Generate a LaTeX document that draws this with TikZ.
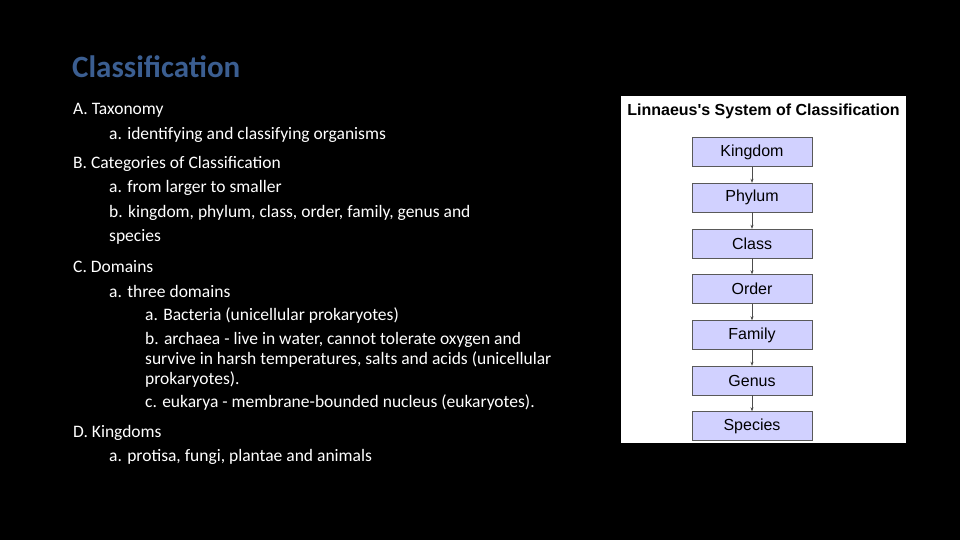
\documentclass[tikz,border=0pt]{standalone}
\usepackage{fontspec}
\usetikzlibrary{arrows.meta}
\setmainfont{Carlito}
\newfontfamily\panelfont{Liberation Sans}
\begin{document}
\begin{tikzpicture}[x=1pt,y=-1pt,
  txt/.style={anchor=west,text=white,font=\fontsize{17.5}{20}\selectfont,inner sep=0pt},
  rank/.style={draw=gray!70!black,fill=blue!18!white,minimum width=120,minimum height=29,inner sep=0pt,font=\panelfont\fontsize{16}{18}\selectfont},
  arr/.style={-{Stealth[length=4pt,width=3pt]},draw=black!70,line width=0.6pt}]
\useasboundingbox[fill=black] (0,0) rectangle (960,540);
\node[anchor=west,inner sep=0pt,text={rgb,255:red,59;green,94;blue,145},font=\bfseries\fontsize{31}{34}\selectfont] (title) at (72,67) {Classification};
\node[txt] (l1) at (73,110) {A. Taxonomy};
\node[txt] (l2) at (109,135) {a. identifying and classifying organisms};
\node[txt] (l3) at (73,164) {B. Categories of Classification};
\node[txt] (l4) at (109,188) {a. from larger to smaller};
\node[txt] (l5) at (109,213) {b. kingdom, phylum, class, order, family, genus and};
\node[txt] (l6) at (109,237) {species};
\node[txt] (l7) at (73,267) {C. Domains};
\node[txt] (l8) at (109,291) {a. three domains};
\node[txt] (l9) at (145,316) {a. Bacteria (unicellular prokaryotes)};
\node[txt] (l10) at (145,340) {b. archaea - live in water, cannot tolerate oxygen and};
\node[txt] (l11) at (145,360) {survive in harsh temperatures, salts and acids (unicellular};
\node[txt] (l12) at (145,380) {prokaryotes).};
\node[txt] (l13) at (145,403) {c. eukarya - membrane-bounded nucleus (eukaryotes).};
\node[txt] (l14) at (73,433) {D. Kingdoms};
\node[txt] (l15) at (109,457) {a. protisa, fungi, plantae and animals};
\fill[white] (621,96) rectangle (906,443);
\node[font=\panelfont\bfseries\fontsize{16}{18}\selectfont,inner sep=0pt] (ptitle) at (763.5,111) {Linnaeus's System of Classification};
\foreach \n/\t/\y in {k/Kingdom/152,p/Phylum/197.5,c/Class/243.5,o/Order/289,f/Family/335,g/Genus/380.5,s/Species/426}
  \node[rank] (\n) at (752,\y) {\t};
\foreach \a/\b in {k/p,p/c,c/o,o/f,f/g,g/s} \draw[arr] (\a) -- (\b);
\end{tikzpicture}
\end{document}
